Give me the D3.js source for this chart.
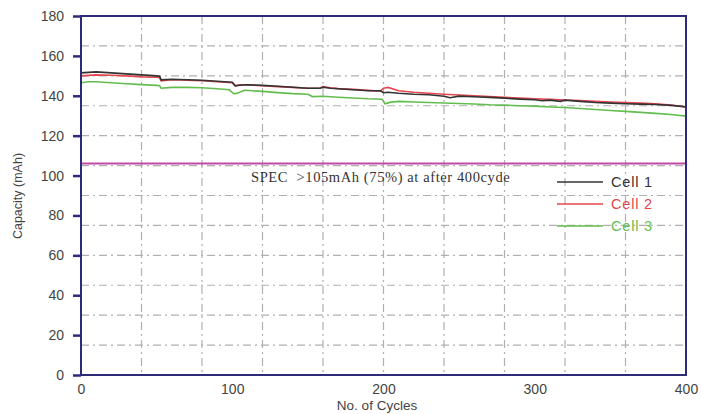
<!DOCTYPE html>
<html><head><meta charset="utf-8">
<script src="https://cdn.jsdelivr.net/npm/d3@7"></script>
<style>body{margin:0;background:#fff}svg{display:block}</style>
</head><body><svg id="c" width="701" height="414"></svg>
<script>
const xTicks = [0, 100, 200, 300, 400];
const yTicks = [0, 20, 40, 60, 80, 100, 120, 140, 160, 180];
const xGrid = [40, 80, 120, 160, 200, 240, 280, 320, 360];
const yGrid = [15, 30, 45, 60, 75, 90, 105, 120, 135, 150, 165];
const specValue = 106;
const specLabel = "SPEC  >105mAh (75%) at after 400cyde";
const seriesNames = ["Cell 1", "Cell 2", "Cell 3"];
const cell1 = [[0,151.5],[10,152],[20,151.5],[30,151],[40,150.5],[50,150],[52,149.8],[53,148],[60,148.3],[70,148],[80,147.8],[90,147.3],[100,146.8],[102,145],[105,145.3],[110,145.5],[120,145.2],[130,144.8],[140,144.3],[150,143.8],[158,143.8],[160,144.3],[165,143.8],[170,143.5],[180,143],[190,142.5],[198,142.5],[200,141.5],[203,141.8],[210,141.3],[220,140.8],[230,140.5],[240,139.8],[244,139],[250,139.8],[260,139.5],[270,139.2],[280,138.8],[290,138.3],[300,138],[305,137.5],[310,137.8],[317,137.2],[320,137.8],[330,137.2],[340,136.6],[350,136.3],[360,136],[370,135.8],[380,135.6],[390,135.2],[400,134.5]];
const cell2 = [[0,150],[10,150.5],[20,150.3],[30,150],[40,149.5],[50,149.3],[52,149],[53,147.5],[60,148],[70,147.8],[80,147.5],[90,147],[100,146.5],[102,145],[105,145.5],[110,145.5],[120,145],[130,144.6],[140,144.2],[150,143.8],[158,143.8],[160,144.6],[165,144],[170,143.6],[180,143.2],[190,142.7],[198,142.3],[200,143.8],[203,144.2],[208,143],[210,142.5],[220,141.8],[230,141.3],[240,140.8],[250,140.4],[260,140],[270,139.6],[280,139.2],[290,138.8],[300,138.5],[310,138.2],[320,137.9],[330,137.6],[340,137.2],[350,136.9],[360,136.6],[370,136.3],[380,136],[390,135.4],[400,134.3]];
const cell3 = [[0,146.5],[5,147],[10,147],[20,146.5],[30,146],[40,145.6],[50,145.2],[52,145],[53,143.8],[60,144.2],[70,144.2],[80,144],[90,143.5],[98,143],[101,141],[103,141.2],[108,142.8],[120,142.2],[130,141.6],[140,141.1],[150,140.8],[153,139.6],[160,139.8],[170,139.3],[180,138.9],[190,138.5],[199,138.3],[201,136],[205,136.8],[210,137.2],[220,136.9],[230,136.6],[240,136.4],[250,136.1],[260,135.9],[270,135.5],[280,135.3],[290,135],[300,134.8],[310,134.4],[320,134.1],[330,133.6],[340,133.1],[350,132.6],[360,132.2],[370,131.7],[380,131.2],[390,130.6],[400,129.8]];
const colors = ["#333333", "#e4474f", "#62bd4f"];
const textColors = ["#333333", "#e0474f", "#62bd4f"];

const W = 701, H = 414, m = {l:81, r:15, t:16, b:39};
const svg = d3.select("#c");
const x = d3.scaleLinear().domain([0,400]).range([m.l, W-m.r]);
const y = d3.scaleLinear().domain([0,180]).range([H-m.b, m.t]);
const navy = "#2e2a7a";

// grid
const g = svg.append("g").attr("stroke","#b0b0b0").attr("stroke-width",1.2).attr("stroke-dasharray","8,4,2,4");
g.selectAll(".vx").data(xGrid).join("line").attr("x1",d=>x(d)).attr("x2",d=>x(d)).attr("y1",y(180)).attr("y2",y(0));
g.selectAll(".hy").data(yGrid).join("line").attr("y1",d=>y(d)).attr("y2",d=>y(d)).attr("x1",x(0)).attr("x2",x(400));

// spec line
svg.append("line").attr("x1",x(0)).attr("x2",x(400)).attr("y1",y(specValue)).attr("y2",y(specValue))
  .attr("stroke","#c04aa8").attr("stroke-width",2);
svg.append("text").attr("x",251).attr("y",y(specValue)+18).attr("font-family","Liberation Serif, Times New Roman, serif")
  .attr("font-size",14.5).attr("letter-spacing",0.6).attr("fill","#333").style("white-space","pre").text(specLabel);

// series
const line = d3.line().x(d=>x(d[0])).y(d=>y(d[1]));
[cell3, cell2, cell1].forEach((s,i)=>{
  const idx = 2-i;
  svg.append("path").datum(s).attr("d",line).attr("fill","none").attr("stroke",colors[idx]).attr("stroke-width",1.6);
});

// axes
const yAxis = d3.axisLeft(y).tickValues(yTicks).tickSize(8).tickPadding(9).tickFormat(d3.format("d"));
const ya = svg.append("g").attr("transform",`translate(${m.l},0)`).call(yAxis);
const xAxis = d3.axisBottom(x).tickValues(xTicks).tickSize(0).tickPadding(9).tickFormat(d3.format("d"));
const xa = svg.append("g").attr("transform",`translate(0,${H-m.b})`).call(xAxis);
[ya, xa].forEach(a=>{
  a.select(".domain").remove();
  a.selectAll(".tick line").attr("stroke",navy).attr("stroke-width",2.5);
  a.selectAll(".tick text").attr("fill","#444").attr("font-size",14).attr("font-family","Liberation Sans, Arial, sans-serif");
});
// frame
svg.append("rect").attr("x",x(0)).attr("y",y(180)).attr("width",x(400)-x(0)).attr("height",y(0)-y(180))
  .attr("fill","none").attr("stroke",navy).attr("stroke-width",2);

// titles
svg.append("text").attr("x",377).attr("y",410).attr("text-anchor","middle").attr("font-size",13.5)
  .attr("font-family","Liberation Sans, Arial, sans-serif").attr("fill","#444").text("No. of Cycles");
svg.append("text").attr("transform","translate(22,196) rotate(-90)").attr("text-anchor","middle").attr("font-size",12.5)
  .attr("font-family","Liberation Sans, Arial, sans-serif").attr("fill","#444").text("Capacity (mAh)");

// legend
const lg = svg.append("g");
seriesNames.forEach((n,i)=>{
  const yy = 182 + i*22;
  lg.append("line").attr("x1",557).attr("x2",603).attr("y1",yy).attr("y2",yy).attr("stroke",colors[i]).attr("stroke-width",1.6);
  lg.append("text").attr("x",611).attr("y",yy+5).attr("font-size",14.5).attr("letter-spacing",0.8).attr("font-family","Liberation Sans, Arial, sans-serif")
    .attr("fill",textColors[i]).text(n);
});
</script></body></html>
